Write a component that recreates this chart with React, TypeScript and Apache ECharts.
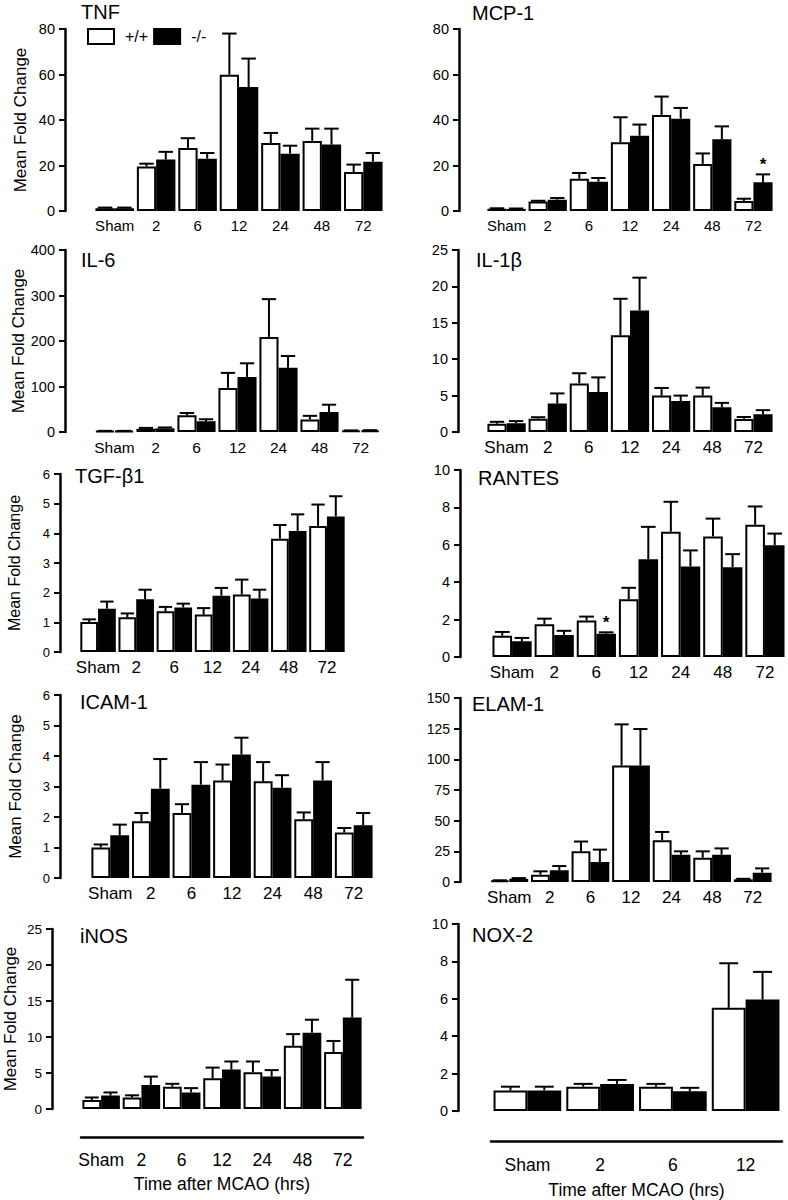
import React, { useEffect, useRef } from "react";
import * as echarts from "echarts";

const FONT = '"Liberation Sans", Arial, Helvetica, sans-serif';

const timeCats = ["Sham", "2", "6", "12", "24", "48", "72"];
const noxCats = ["Sham", "2", "6", "12"];
const genotypes = ["+/+", "-/-"];

// TNF
const tnfWT = [1.2, 19.6, 27.7, 59.9, 29.9, 30.8, 17.1];
const tnfWTErr = [0.3, 1.2, 4.3, 18.1, 4.4, 5.4, 3.3];
const tnfKO = [1.2, 22.6, 23.0, 54.5, 25.2, 29.2, 21.7];
const tnfKOErr = [0.3, 3.4, 2.5, 12.5, 3.5, 7.0, 3.8];
// MCP-1
const mcpWT = [1.0, 4.2, 14.2, 30.2, 42.2, 20.7, 4.4];
const mcpWTErr = [0.2, 0.3, 2.5, 11.0, 8.1, 4.6, 1.0];
const mcpKO = [0.9, 5.0, 12.9, 33.1, 40.6, 31.5, 12.6];
const mcpKOErr = [0.2, 0.7, 1.6, 4.9, 4.7, 5.7, 3.5];
const mcpKOSig = [0, 0, 0, 0, 0, 0, 1];
// IL-6
const il6WT = [2, 7, 36.7, 96.9, 209, 27.5, 3];
const il6WTErr = [0.5, 2, 5, 33, 83, 8, 0.5];
const il6KO = [2, 8, 23.5, 121, 141, 44, 3.5];
const il6KOErr = [0.5, 2, 4.5, 30, 26, 16, 0.5];
// IL-1b
const il1WT = [1.14, 1.83, 6.67, 13.3, 5.0, 5.0, 1.8];
const il1WTErr = [0.26, 0.2, 1.4, 5.0, 1.05, 1.1, 0.26];
const il1KO = [1.2, 3.9, 5.5, 16.7, 4.25, 3.4, 2.45];
const il1KOErr = [0.3, 1.4, 2.0, 4.5, 0.75, 0.6, 0.55];
// TGF-b1
const tgfWT = [1.01, 1.17, 1.37, 1.26, 1.94, 3.82, 4.25];
const tgfWTErr = [0.09, 0.13, 0.15, 0.22, 0.5, 0.46, 0.72];
const tgfKO = [1.46, 1.78, 1.5, 1.9, 1.8, 4.08, 4.57];
const tgfKOErr = [0.24, 0.32, 0.13, 0.26, 0.3, 0.56, 0.68];
// RANTES
const rantesWT = [1.14, 1.75, 1.95, 3.09, 6.7, 6.45, 7.07];
const rantesWTErr = [0.2, 0.3, 0.21, 0.61, 1.6, 0.95, 0.98];
const rantesKO = [0.84, 1.18, 1.25, 5.23, 4.84, 4.8, 5.98];
const rantesKOErr = [0.18, 0.22, 0.07, 1.73, 0.86, 0.7, 0.62];
const rantesKOSig = [0, 0, 1, 0, 0, 0, 0];
// ICAM-1
const icamWT = [1.0, 1.86, 2.13, 3.2, 3.17, 1.93, 1.49];
const icamWTErr = [0.1, 0.27, 0.29, 0.52, 0.63, 0.22, 0.15];
const icamKO = [1.4, 2.93, 3.06, 4.05, 2.96, 3.2, 1.73];
const icamKOErr = [0.35, 0.97, 0.74, 0.55, 0.41, 0.6, 0.4];
// ELAM-1
const elamWT = [1.1, 6, 25, 95, 34, 19.8, 2.2];
const elamWTErr = [0.3, 2.7, 8, 33.5, 6.8, 5.2, 0.4];
const elamKO = [2.7, 9.5, 16.3, 95, 22.3, 22.3, 7.6];
const elamKOErr = [0.5, 3.5, 10.1, 29.7, 2.7, 5.1, 3.5];
// iNOS
const inosWT = [1.25, 1.6, 3.1, 4.27, 5.1, 8.77, 7.9];
const inosWTErr = [0.35, 0.3, 0.4, 1.48, 1.5, 1.63, 1.55];
const inosKO = [1.86, 3.34, 2.3, 5.47, 4.5, 10.6, 12.7];
const inosKOErr = [0.44, 1.16, 0.6, 1.13, 0.9, 1.8, 5.25];
// NOX-2
const noxWT = [1.1, 1.3, 1.3, 5.52];
const noxWTErr = [0.2, 0.15, 0.15, 2.38];
const noxKO = [1.1, 1.45, 1.06, 5.96];
const noxKOErr = [0.2, 0.21, 0.18, 1.48];

const yMax = [80, 80, 400, 25, 6, 10, 6, 150, 25, 10];
const yInterval = [20, 20, 100, 5, 1, 2, 1, 25, 5, 2];

const panels = [
  { title: "TNF", cats: timeCats, wt: tnfWT, wtErr: tnfWTErr, ko: tnfKO, koErr: tnfKOErr, koSig: null },
  { title: "MCP-1", cats: timeCats, wt: mcpWT, wtErr: mcpWTErr, ko: mcpKO, koErr: mcpKOErr, koSig: mcpKOSig },
  { title: "IL-6", cats: timeCats, wt: il6WT, wtErr: il6WTErr, ko: il6KO, koErr: il6KOErr, koSig: null },
  { title: "IL-1\u03B2", cats: timeCats, wt: il1WT, wtErr: il1WTErr, ko: il1KO, koErr: il1KOErr, koSig: null },
  { title: "TGF-\u03B21", cats: timeCats, wt: tgfWT, wtErr: tgfWTErr, ko: tgfKO, koErr: tgfKOErr, koSig: null },
  { title: "RANTES", cats: timeCats, wt: rantesWT, wtErr: rantesWTErr, ko: rantesKO, koErr: rantesKOErr, koSig: rantesKOSig },
  { title: "ICAM-1", cats: timeCats, wt: icamWT, wtErr: icamWTErr, ko: icamKO, koErr: icamKOErr, koSig: null },
  { title: "ELAM-1", cats: timeCats, wt: elamWT, wtErr: elamWTErr, ko: elamKO, koErr: elamKOErr, koSig: null },
  { title: "iNOS", cats: timeCats, wt: inosWT, wtErr: inosWTErr, ko: inosKO, koErr: inosKOErr, koSig: null },
  { title: "NOX-2", cats: noxCats, wt: noxWT, wtErr: noxWTErr, ko: noxKO, koErr: noxKOErr, koSig: null },
];

// layout (pixels)
const layouts = [
  { left: 94, top: 29, width: 290, height: 182, axisX: 65, tx: 81, ty: 2, yName: 17, nameGap: 36, xFs: 15, yFs: 14.5, bottom: false },
  { left: 486, top: 29, width: 288, height: 182, axisX: 459, tx: 472, ty: 3, yName: 0, nameGap: 0, xFs: 15, yFs: 14.5, bottom: false },
  { left: 94, top: 250, width: 287, height: 182, axisX: 65, tx: 81, ty: 250, yName: 17, nameGap: 36, xFs: 15.5, yFs: 14.5, bottom: false },
  { left: 486, top: 250, width: 288, height: 182, axisX: 458, tx: 476, ty: 250, yName: 0, nameGap: 0, xFs: 17, yFs: 14.5, bottom: false },
  { left: 79, top: 474, width: 267, height: 178, axisX: 60, tx: 75, ty: 466, yName: 16, nameGap: 38, xFs: 17, yFs: 13, bottom: false },
  { left: 491, top: 470, width: 295, height: 187, axisX: 460, tx: 478, ty: 468, yName: 0, nameGap: 0, xFs: 17, yFs: 14.5, bottom: false },
  { left: 90, top: 695, width: 284, height: 183, axisX: 60, tx: 80, ty: 692, yName: 17, nameGap: 36, xFs: 17, yFs: 13, bottom: false },
  { left: 489, top: 698, width: 284, height: 184, axisX: 460, tx: 472, ty: 694, yName: 0, nameGap: 0, xFs: 17, yFs: 14, bottom: false },
  { left: 81, top: 929, width: 282, height: 180, axisX: 52, tx: 80, ty: 926, yName: 17, nameGap: 33, xFs: 17.5, yFs: 13.5, bottom: true, xOff: 28, lblM: 14, xNameGap: 38 },
  { left: 491, top: 924, width: 291, height: 188, axisX: 458, tx: 472, ty: 925, yName: 0, nameGap: 0, xFs: 17.5, yFs: 14.5, bottom: true, xOff: 30, lblM: 15, xNameGap: 40 },
];

const GAP = 0.07;

function errRender(params: any, api: any) {
  const cat = api.value(0);
  const val = api.value(1);
  const top = api.value(2);
  const side = api.value(3);
  const sig = api.value(4);
  const band = api.size([1, 0])[0];
  const barW = (band * (1 - GAP)) / 2;
  const base = api.coord([cat, val]);
  const tp = api.coord([cat, top]);
  const x = base[0] + (side * barW) / 2;
  const cap = Math.min(barW * 0.75, 19);
  const st = { stroke: "#000", lineWidth: 2 };
  const children: any[] = [
    { type: "line", shape: { x1: x, y1: base[1], x2: x, y2: tp[1] }, style: st },
    { type: "line", shape: { x1: x - cap / 2, y1: tp[1], x2: x + cap / 2, y2: tp[1] }, style: st },
  ];
  if (sig) {
    children.push({
      type: "text",
      x: x,
      y: tp[1] - 1,
      style: { text: "*", fontSize: 17, fontWeight: "bold", fill: "#000", align: "center", verticalAlign: "bottom", fontFamily: FONT },
    });
  }
  return { type: "group", children };
}

function buildOption() {
  const grid: any[] = [];
  const xAxis: any[] = [];
  const yAxis: any[] = [];
  const series: any[] = [];
  const title: any[] = [];

  panels.forEach((p, i) => {
    const L: any = layouts[i];
    grid.push({ left: L.left, top: L.top, width: L.width, height: L.height, containLabel: false });
    title.push({
      text: p.title,
      left: L.tx,
      top: L.ty,
      padding: 0,
      textStyle: { fontSize: 20, fontWeight: "normal", color: "#000", fontFamily: FONT },
    });
    xAxis.push({
      gridIndex: i,
      type: "category",
      data: p.cats,
      offset: L.bottom ? L.xOff : 0,
      axisLine: { show: L.bottom, onZero: false, lineStyle: { color: "#000", width: 2.5 } },
      axisTick: { show: false },
      axisLabel: { color: "#000", fontSize: L.xFs, margin: L.bottom ? L.lblM : 7, fontFamily: FONT, interval: 0 },
      splitLine: { show: false },
      name: L.bottom ? "Time after MCAO (hrs)" : "",
      nameLocation: "middle",
      nameGap: L.bottom ? L.xNameGap : 0,
      nameTextStyle: { color: "#000", fontSize: 17.5, fontFamily: FONT },
    });
    yAxis.push({
      gridIndex: i,
      type: "value",
      min: 0,
      max: yMax[i],
      interval: yInterval[i],
      offset: L.left - L.axisX,
      axisLine: { show: true, lineStyle: { color: "#000", width: 2.5 } },
      axisTick: { show: true, length: 6, lineStyle: { color: "#000", width: 2 } },
      axisLabel: { color: "#000", fontSize: L.yFs, margin: 10, fontFamily: FONT },
      splitLine: { show: false },
      name: L.yName ? "Mean Fold Change" : "",
      nameLocation: "middle",
      nameRotate: 90,
      nameGap: L.nameGap,
      nameTextStyle: { color: "#000", fontSize: L.yName || 13, fontFamily: FONT },
    });
    series.push({
      type: "bar",
      name: genotypes[0],
      xAxisIndex: i,
      yAxisIndex: i,
      data: p.wt,
      barGap: "0%",
      barCategoryGap: GAP * 100 + "%",
      itemStyle: { color: "#fff", borderColor: "#000", borderWidth: 2 },
      emphasis: { disabled: true },
    });
    series.push({
      type: "bar",
      name: genotypes[1],
      xAxisIndex: i,
      yAxisIndex: i,
      data: p.ko,
      barGap: "0%",
      barCategoryGap: GAP * 100 + "%",
      itemStyle: { color: "#000", borderColor: "#000", borderWidth: 2 },
      emphasis: { disabled: true },
    });
    const errData: any[] = [];
    p.wt.forEach((v, k) => errData.push([k, v, v + p.wtErr[k], -1, 0]));
    p.ko.forEach((v, k) => errData.push([k, v, v + p.koErr[k], 1, p.koSig ? p.koSig[k] : 0]));
    series.push({
      type: "custom",
      xAxisIndex: i,
      yAxisIndex: i,
      renderItem: errRender,
      data: errData,
      encode: { x: 0, y: 2 },
      z: 5,
      silent: true,
    });
  });

  return {
    animation: false,
    backgroundColor: "#fff",
    textStyle: { fontFamily: FONT },
    title,
    legend: {
      data: genotypes,
      left: 87,
      top: 28,
      padding: 0,
      itemWidth: 26,
      itemHeight: 15,
      itemGap: 5,
      selectedMode: false,
      icon: "rect",
      textStyle: { color: "#000", fontSize: 16, fontFamily: FONT, padding: [0, 0, 0, 6] },
    },
    grid,
    xAxis,
    yAxis,
    series,
  };
}

export default function App() {
  const ref = useRef<HTMLDivElement>(null);
  useEffect(() => {
    document.body.style.margin = "0";
    if (!ref.current) return;
    const chart = echarts.init(ref.current, null, { renderer: "svg" });
    chart.setOption(buildOption() as any);
    return () => chart.dispose();
  }, []);
  return <div ref={ref} style={{ width: 788, height: 1200, background: "#fff" }} />;
}
